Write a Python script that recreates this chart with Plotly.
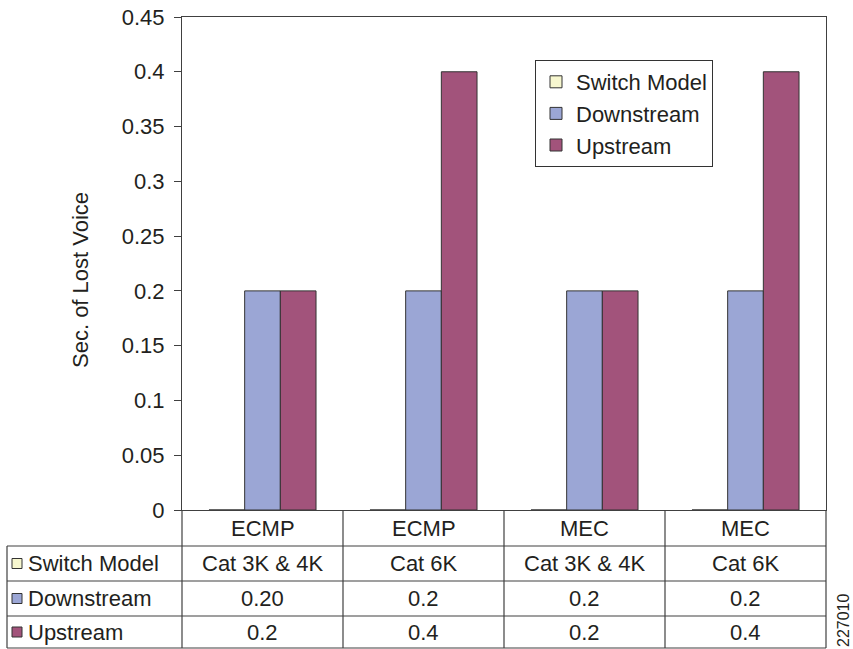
"""Seconds of lost voice by switch model: bar chart with data table underneath."""

import plotly.graph_objects as go

METHODS = ["ECMP", "ECMP", "MEC", "MEC"]
SWITCH_MODELS = ["Cat 3K & 4K", "Cat 6K", "Cat 3K & 4K", "Cat 6K"]
SWITCH_VALUES = [0, 0, 0, 0]
DOWNSTREAM = [0.20, 0.2, 0.2, 0.2]
UPSTREAM = [0.2, 0.4, 0.2, 0.4]
DOWNSTREAM_TEXT = ["0.20", "0.2", "0.2", "0.2"]
UPSTREAM_TEXT = ["0.2", "0.4", "0.2", "0.4"]
SERIES = ["Switch Model", "Downstream", "Upstream"]
Y_TICKS = [0, 0.05, 0.1, 0.15, 0.2, 0.25, 0.3, 0.35, 0.4, 0.45]

COLORS = {"Switch Model": "#f7f7cf", "Downstream": "#9ba6d5", "Upstream": "#a2537b"}
INK = "#231f20"
LINE = "#404040"
FONT = "Liberation Sans, Arial, sans-serif"
FS = 22

W, H = 853, 649
L, R, T, B = 182, 826, 17, 510


def px(x):
    return (x - L) / (R - L)


def py(y):
    return (B - y) / (B - T)


xs = list(range(len(METHODS)))
fig = go.Figure()
for name, vals in zip(SERIES, [SWITCH_VALUES, DOWNSTREAM, UPSTREAM]):
    fig.add_trace(go.Bar(
        x=xs, y=vals, name=name,
        marker=dict(color=COLORS[name], line=dict(color="#333333", width=1)),
    ))

shapes = []
annotations = []


def hline(y, x0, x1):
    shapes.append(dict(type="line", xref="paper", yref="paper",
                       x0=px(x0), x1=px(x1), y0=py(y), y1=py(y),
                       line=dict(color=LINE, width=1.2)))


def vline(x, y0, y1, xref="paper"):
    xv = px(x) if xref == "paper" else x
    shapes.append(dict(type="line", xref=xref, yref="paper",
                       x0=xv, x1=xv, y0=py(y0), y1=py(y1),
                       line=dict(color=LINE, width=1.2)))


# table grid
rows = [510, 546, 581, 616, 648]
for y in rows[1:]:
    hline(y, 7, R)
vline(7, 546, 648)
vline(L, 510, 648)
vline(R, 510, 648)
for i in range(len(METHODS) - 1):
    vline(i + 0.5, 510, 648, xref="x")

# table text
row_text = [METHODS, SWITCH_MODELS, DOWNSTREAM_TEXT, UPSTREAM_TEXT]
for r, texts in enumerate(row_text):
    yc = (rows[r] + rows[r + 1]) / 2
    for i, t in enumerate(texts):
        annotations.append(dict(x=i, y=py(yc), xref="x", yref="paper", text=t,
                                showarrow=False, xanchor="center", yanchor="middle",
                                font=dict(size=FS, color=INK)))

# row headers with colour keys
for r, name in enumerate(SERIES):
    yc = (rows[r + 1] + rows[r + 2]) / 2
    shapes.append(dict(type="rect", xref="paper", yref="paper",
                       x0=px(12), x1=px(22), y0=py(yc + 5), y1=py(yc - 5),
                       fillcolor=COLORS[name], line=dict(color="#333333", width=1)))
    annotations.append(dict(x=px(26), y=py(yc), xref="paper", yref="paper", text=name,
                            showarrow=False, xanchor="left", yanchor="middle",
                            font=dict(size=FS, color=INK)))

# axis title and figure id
annotations.append(dict(x=px(80), y=py(280), xref="paper", yref="paper",
                        text="Sec. of Lost Voice", textangle=-90, showarrow=False,
                        xanchor="center", yanchor="middle", font=dict(size=FS, color=INK)))
annotations.append(dict(x=px(843), y=py(621), xref="paper", yref="paper",
                        text="227010", textangle=-90, showarrow=False,
                        xanchor="center", yanchor="middle", font=dict(size=16, color=INK)))

fig.update_layout(
    width=W, height=H,
    margin=dict(l=L, r=W - R, t=T, b=H - B, pad=0),
    paper_bgcolor="white", plot_bgcolor="white",
    font=dict(family=FONT, size=FS, color=INK),
    barmode="group", bargap=0.335, bargroupgap=0,
    showlegend=True,
    legend=dict(x=px(535), y=py(60), xanchor="left", yanchor="top",
                bordercolor="#333333", borderwidth=1, bgcolor="white",
                font=dict(size=FS, color=INK), traceorder="normal"),
    shapes=shapes, annotations=annotations,
)
fig.update_xaxes(range=[-0.5, len(METHODS) - 0.5], showticklabels=False, ticks="",
                 showgrid=False, zeroline=False, showline=True, linecolor=LINE,
                 linewidth=1, mirror=True, automargin=False)
fig.update_yaxes(range=[0, 0.45], tickvals=Y_TICKS, ticks="outside", ticklen=7,
                 tickcolor=LINE, showgrid=False, zeroline=False, showline=True,
                 linecolor=LINE, linewidth=1, mirror=True, automargin=False,
                 ticklabelstandoff=5, tickfont=dict(size=FS, color=INK))

fig.write_html("out.html", config={"displayModeBar": False},
               post_script="document.body.style.margin='0';")
